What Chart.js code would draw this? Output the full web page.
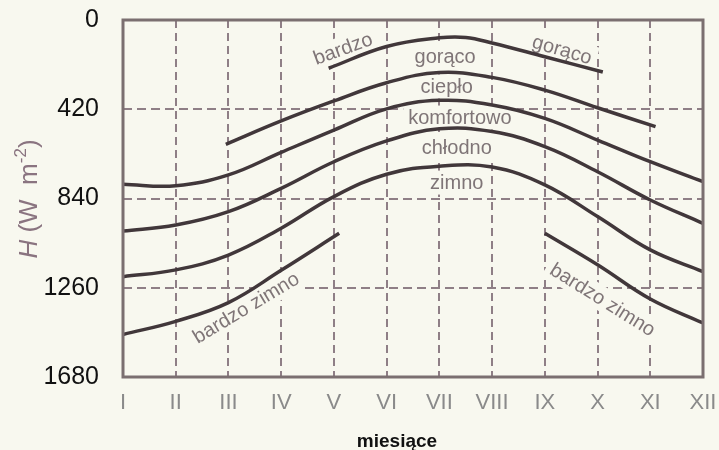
<!DOCTYPE html>
<html>
<head>
<meta charset="utf-8">
<script src="https://cdn.jsdelivr.net/npm/chart.js@4"></script>
<style>
  html, body { margin: 0; padding: 0; background: #f8f8ef; }
  #wrap { width: 719px; height: 450px; position: relative; }
</style>
</head>
<body>
<div id="wrap"><canvas id="c" width="719" height="450"></canvas></div>
<script>
// ---- data (months as 1..12, H in W m^-2) ----
const monthLabels = ['I','II','III','IV','V','VI','VII','VIII','IX','X','XI','XII'];
const yTickValues = [0, 420, 840, 1260, 1680];

const bardzoGoracoX = [4.9, 6, 7, 7.5, 8, 9, 10.1];
const bardzoGoracoY = [227, 125, 84, 82, 108, 173, 245];

const goracoCieploX = [2.95, 4, 5, 6, 7, 8, 9, 10, 11.1];
const goracoCieploY = [585, 475, 381, 295, 247, 270, 330, 413, 502];

const cieploKomfortX = [1, 2, 3, 4, 5, 6, 7, 8, 9, 10, 11, 12];
const cieploKomfortY = [773, 780, 729, 623, 518, 418, 378, 400, 463, 565, 667, 761];

const komfortChlodnoX = [1, 2, 3, 4, 5, 6, 7, 8, 9, 10, 11, 12];
const komfortChlodnoY = [993, 965, 902, 792, 667, 569, 512, 525, 596, 714, 847, 957];

const chlodnoZimnoX = [1, 2, 3, 4, 5, 6, 7, 8, 9, 10, 11, 12];
const chlodnoZimnoY = [1208, 1176, 1106, 980, 831, 726, 688, 692, 776, 925, 1082, 1184];

const bardzoZimnoLewyX = [1, 2, 3, 4, 5.1];
const bardzoZimnoLewyY = [1480, 1418, 1330, 1178, 1004];

const bardzoZimnoPrawyX = [9, 10, 11, 12];
const bardzoZimnoPrawyY = [1004, 1152, 1313, 1426];

// zone labels: text, month, H, angle (deg)
const zoneText  = ['bardzo', 'gorąco', 'gorąco', 'ciepło', 'komfortowo', 'chłodno', 'zimno', 'bardzo zimno', 'bardzo zimno'];
const zoneMonth = [5.17, 7.11, 9.33, 7.14, 7.39, 7.33, 7.33, 3.33, 10.10];
const zoneH     = [134, 172, 139, 313, 459, 600, 765, 1353, 1315];
const zoneAngle = [-20, 0, 16, 0, 0, 0, 0, -31, 32];

const xTitle = 'miesiące';

// ---- build ----
function pts(xs, ys) { return xs.map((x, i) => ({ x: x, y: ys[i] })); }
const LINE = '#41373a';
function ds(xs, ys) {
  return {
    data: pts(xs, ys),
    borderColor: LINE,
    borderWidth: 3.5,
    pointRadius: 0,
    fill: false,
    tension: 0.4
  };
}

const GRID = '#8f7f86';
const BG = '#f8f8ef';
const CLEAR = 'rgba(0,0,0,0)';

const labelsPlugin = {
  id: 'zoneLabels',
  beforeDatasetsDraw(chart) {
    const ctx = chart.ctx;
    const xs = chart.scales.x, ys = chart.scales.y;
    ctx.save();
    ctx.font = '20px "Liberation Sans", Arial, sans-serif';
    ctx.textAlign = 'center';
    ctx.textBaseline = 'middle';
    for (let i = 0; i < zoneText.length; i++) {
      const px = xs.getPixelForValue(zoneMonth[i]);
      const py = ys.getPixelForValue(zoneH[i]);
      ctx.save();
      ctx.translate(px, py);
      ctx.rotate(zoneAngle[i] * Math.PI / 180);
      const w = ctx.measureText(zoneText[i]).width;
      ctx.fillStyle = BG;
      ctx.fillRect(-w / 2 - 5, -12, w + 10, 24);
      ctx.fillStyle = '#7f7577';
      ctx.fillText(zoneText[i], 0, 1);
      ctx.restore();
    }
    ctx.restore();
  },
  afterDraw(chart) {
    const ctx = chart.ctx;
    const a = chart.chartArea;
    ctx.save();
    // frame
    ctx.strokeStyle = '#7b6f70';
    ctx.lineWidth = 3;
    ctx.strokeRect(a.left, a.top, a.right - a.left, a.bottom - a.top);
    // x title
    ctx.fillStyle = '#111';
    ctx.font = 'bold 19px "Liberation Sans", Arial, sans-serif';
    ctx.textAlign = 'center';
    ctx.textBaseline = 'middle';
    ctx.fillText(xTitle, 397, 442);
    // y title: H (W m^-2), rotated
    ctx.translate(28, 199);
    ctx.rotate(-Math.PI / 2);
    ctx.fillStyle = '#8a7480';
    ctx.textAlign = 'left';
    ctx.textBaseline = 'alphabetic';
    const fMain = '26px "Liberation Sans", Arial, sans-serif';
    const fIt = 'italic 26px "Liberation Sans", Arial, sans-serif';
    const fSup = '17px "Liberation Sans", Arial, sans-serif';
    const parts = [
      { t: 'H', f: fIt, dy: 0 },
      { t: ' (W  m', f: fMain, dy: 0 },
      { t: '-2', f: fSup, dy: -11 },
      { t: ')', f: fMain, dy: 0 }
    ];
    let total = 0;
    parts.forEach(p => { ctx.font = p.f; p.w = ctx.measureText(p.t).width; total += p.w; });
    let x = -total / 2;
    parts.forEach(p => { ctx.font = p.f; ctx.fillText(p.t, x, 9 + p.dy); x += p.w; });
    ctx.restore();
  }
};

new Chart(document.getElementById('c'), {
  type: 'line',
  data: {
    datasets: [
      ds(bardzoGoracoX, bardzoGoracoY),
      ds(goracoCieploX, goracoCieploY),
      ds(cieploKomfortX, cieploKomfortY),
      ds(komfortChlodnoX, komfortChlodnoY),
      ds(chlodnoZimnoX, chlodnoZimnoY),
      ds(bardzoZimnoLewyX, bardzoZimnoLewyY),
      ds(bardzoZimnoPrawyX, bardzoZimnoPrawyY)
    ]
  },
  options: {
    responsive: false,
    animation: false,
    devicePixelRatio: 1,
    layout: { padding: { top: 20, right: 16, left: 0, bottom: 0 } },
    plugins: { legend: { display: false }, tooltip: { enabled: false } },
    scales: {
      x: {
        type: 'linear',
        min: 1, max: 12,
        afterFit(s) { s.height = 73; },
        afterBuildTicks(s) { s.ticks = monthLabels.map((_, i) => ({ value: i + 1 })); },
        ticks: {
          autoSkip: false,
          maxRotation: 0,
          padding: 0,
          color: '#8a8a8a',
          font: { family: '"Liberation Sans", Arial, sans-serif', size: 22 },
          callback: (v) => monthLabels[Math.round(v) - 1]
        },
        grid: {
          drawTicks: true,
          tickLength: 13,
          tickColor: CLEAR,
          lineWidth: 2,
          color: (c) => (c.tick && (c.tick.value === 1 || c.tick.value === 12)) ? CLEAR : GRID
        },
        border: { display: false, dash: [8, 5] }
      },
      y: {
        type: 'linear',
        reverse: true,
        min: 0, max: 1680,
        afterFit(s) { s.width = 123; },
        afterBuildTicks(s) { s.ticks = yTickValues.map(v => ({ value: v })); },
        ticks: {
          padding: 0,
          color: '#111',
          font: { family: '"Liberation Sans", Arial, sans-serif', size: 25 },
          callback: (v) => String(v)
        },
        grid: {
          drawTicks: true,
          tickLength: 24,
          tickColor: CLEAR,
          lineWidth: 2,
          color: (c) => (c.tick && (c.tick.value === 0 || c.tick.value === 1680)) ? CLEAR : GRID
        },
        border: { display: false, dash: [9, 5] }
      }
    }
  },
  plugins: [labelsPlugin]
});
</script>
</body>
</html>
